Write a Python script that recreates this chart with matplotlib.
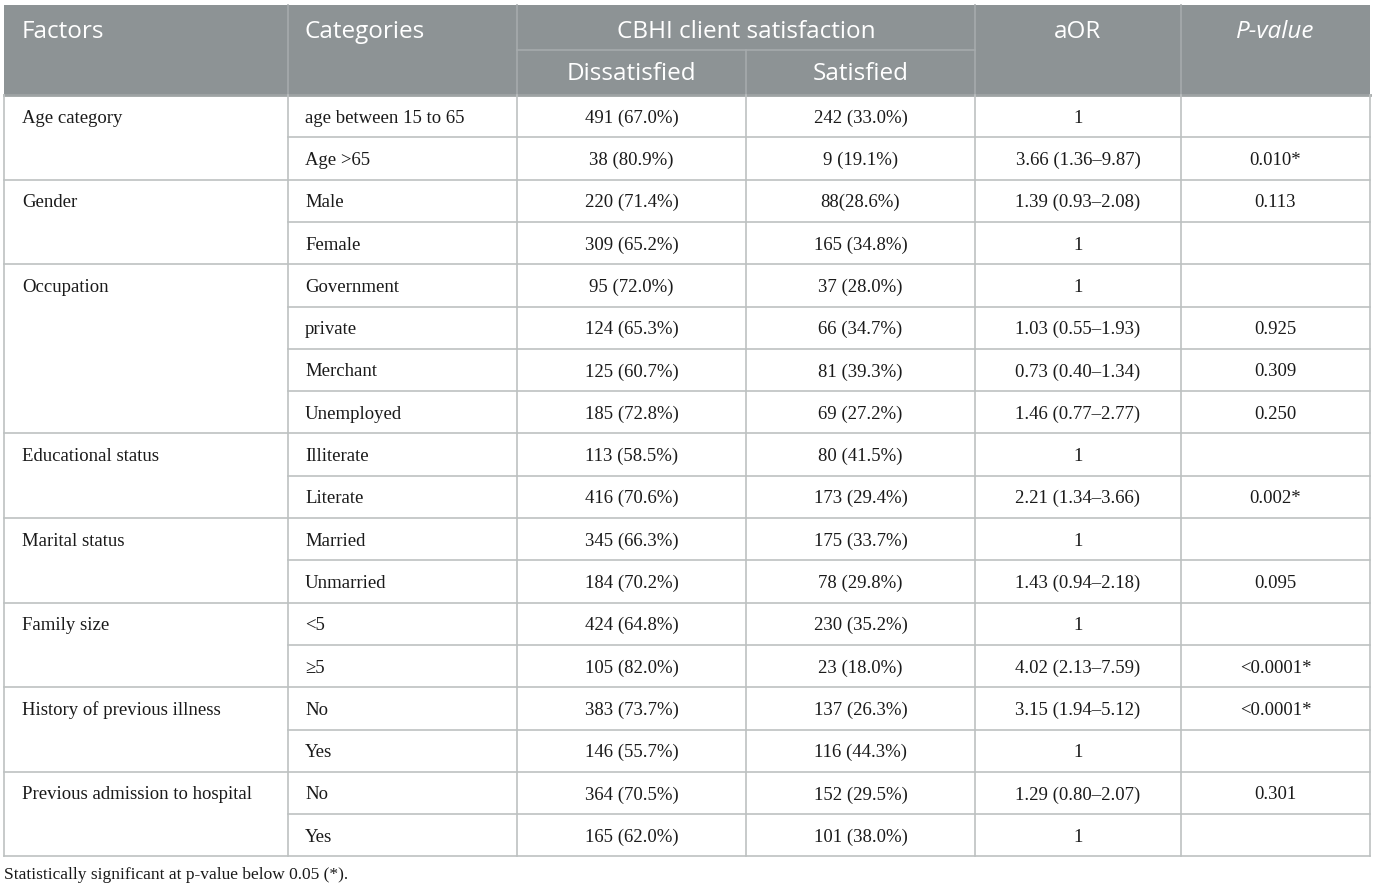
import matplotlib.pyplot as plt
from matplotlib.lines import Line2D
from matplotlib.patches import Rectangle

# ──────────────────────────────────────────────
# TABLE DATA
# ──────────────────────────────────────────────
factors = ['Age category', 'Gender', 'Occupation', 'Educational status',
           'Marital status', 'Family size', 'History of previous illness',
           'Previous admission to hospital']
group_sizes = [2, 2, 4, 2, 2, 2, 2, 2]

categories = ['age between 15 to 65', 'Age >65', 'Male', 'Female',
              'Government', 'private', 'Merchant', 'Unemployed',
              'Illiterate', 'Literate', 'Married', 'Unmarried',
              '<5', '≥5', 'No', 'Yes', 'No', 'Yes']
dissatisfied = ['491 (67.0%)', '38 (80.9%)', '220 (71.4%)', '309 (65.2%)',
                '95 (72.0%)', '124 (65.3%)', '125 (60.7%)', '185 (72.8%)',
                '113 (58.5%)', '416 (70.6%)', '345 (66.3%)', '184 (70.2%)',
                '424 (64.8%)', '105 (82.0%)', '383 (73.7%)', '146 (55.7%)',
                '364 (70.5%)', '165 (62.0%)']
satisfied = ['242 (33.0%)', '9 (19.1%)', '88(28.6%)', '165 (34.8%)',
             '37 (28.0%)', '66 (34.7%)', '81 (39.3%)', '69 (27.2%)',
             '80 (41.5%)', '173 (29.4%)', '175 (33.7%)', '78 (29.8%)',
             '230 (35.2%)', '23 (18.0%)', '137 (26.3%)', '116 (44.3%)',
             '152 (29.5%)', '101 (38.0%)']
aor = ['1', '3.66 (1.36–9.87)', '1.39 (0.93–2.08)', '1',
       '1', '1.03 (0.55–1.93)', '0.73 (0.40–1.34)', '1.46 (0.77–2.77)',
       '1', '2.21 (1.34–3.66)', '1', '1.43 (0.94–2.18)',
       '1', '4.02 (2.13–7.59)', '3.15 (1.94–5.12)', '1',
       '1.29 (0.80–2.07)', '1']
pvalue = ['', '0.010*', '0.113', '', '', '0.925', '0.309', '0.250',
          '', '0.002*', '', '0.095', '', '<0.0001*', '<0.0001*', '',
          '0.301', '']

footnote = 'Statistically significant at p-value below 0.05 (*).'

# ──────────────────────────────────────────────
# LAYOUT (pixel coordinates)
# ──────────────────────────────────────────────
W, H = 1375, 889
col_x = [4, 288, 517, 746, 975, 1181, 1370]
top, head_mid, head_bot = 5, 50, 95
row_h = 42.3

header_color = '#8d9395'
line_color = '#bdc1c1'
header_line = '#a6abad'
text_color = '#1a1a1a'

serif = 'Liberation Serif'
sans = 'Open Sans'
body_fs = 13.5
head_fs = 17.5

fig = plt.figure(figsize=(W / 100, H / 100), dpi=100)
ax = fig.add_axes([0, 0, 1, 1])
ax.set_xlim(0, W)
ax.set_ylim(H, 0)
ax.axis('off')

n_rows = len(categories)
bottom = head_bot + n_rows * row_h

# header background
ax.add_patch(Rectangle((col_x[0], top), col_x[-1] - col_x[0], head_bot - top,
                       facecolor=header_color, edgecolor='none'))


def hline(y, x0, x1, color=line_color, lw=1.2):
    ax.add_line(Line2D([x0, x1], [y, y], color=color, lw=lw))


def vline(x, y0, y1, color=line_color, lw=1.2):
    ax.add_line(Line2D([x, x], [y0, y1], color=color, lw=lw))


# header lines
for x in [col_x[1], col_x[2], col_x[4], col_x[5]]:
    vline(x, top, head_bot, color=header_line)
vline(col_x[3], head_mid, head_bot, color=header_line)
hline(head_mid, col_x[2], col_x[4], color=header_line)
hline(head_bot, col_x[0], col_x[-1], color='#9ea3a4', lw=2.0)

# header text
hy1 = (top + head_mid) / 2 + 10
hy2 = (head_mid + head_bot) / 2 + 7.5
hkw = dict(fontsize=head_fs, family=sans, color='white', va='baseline')
ax.text(22, hy1, 'Factors', ha='left', **hkw)
ax.text(305, hy1, 'Categories', ha='left', **hkw)
ax.text((col_x[2] + col_x[4]) / 2, hy1, 'CBHI client satisfaction',
        ha='center', **hkw)
ax.text((col_x[2] + col_x[3]) / 2, hy2, 'Dissatisfied', ha='center', **hkw)
ax.text((col_x[3] + col_x[4]) / 2, hy2, 'Satisfied', ha='center', **hkw)
ax.text((col_x[4] + col_x[5]) / 2, hy1, 'aOR', ha='center', **hkw)
ax.text((col_x[5] + col_x[6]) / 2, hy1, 'P-value', ha='center',
        style='italic', **hkw)

# body vertical lines
for x in col_x:
    vline(x, head_bot, bottom)

# body rows
bkw = dict(fontsize=body_fs, family=serif, color=text_color, va='baseline')
base_off = 6.5
row = 0
for factor, size in zip(factors, group_sizes):
    y0 = head_bot + row * row_h
    ax.text(22, y0 + row_h / 2 + base_off, factor, ha='left', **bkw)
    for k in range(size):
        i = row + k
        yc = head_bot + i * row_h + row_h / 2 + base_off
        ax.text(305, yc, categories[i], ha='left', **bkw)
        for c, vals in zip(range(2, 6), [dissatisfied, satisfied, aor, pvalue]):
            ax.text((col_x[c] + col_x[c + 1]) / 2, yc, vals[i],
                    ha='center', **bkw)
        if k > 0:
            hline(head_bot + i * row_h, col_x[1], col_x[-1])
    row += size
    hline(head_bot + row * row_h, col_x[0], col_x[-1])

ax.text(4, bottom + 23, footnote, fontsize=12.5, family=serif,
        ha='left', va='baseline', color=text_color)

plt.savefig('out.png', dpi=100)
